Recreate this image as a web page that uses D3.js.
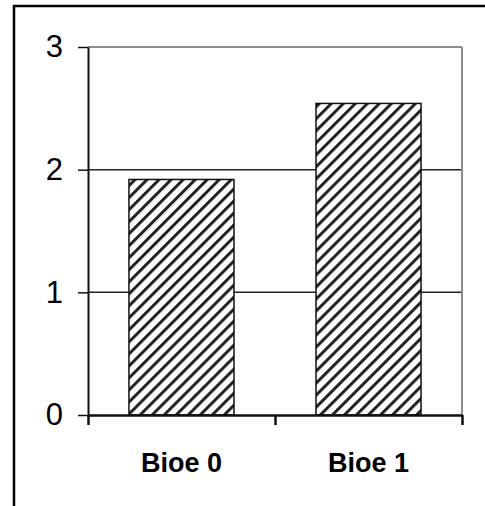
<!DOCTYPE html>
<html>
<head>
<meta charset="utf-8">
<script src="https://cdn.jsdelivr.net/npm/d3@7"></script>
<style>
  html, body { margin: 0; padding: 0; background: #fff; }
  svg { display: block; }
</style>
</head>
<body>
<svg id="chart" width="485" height="506"></svg>
<script>
const categories = ["Bioe 0", "Bioe 1"];
const values = [1.92, 2.54];
const yTicks = [0, 1, 2, 3];

(function () {
const svg = d3.select("#chart");
const mLeft = 88, mRight = 462, mTop = 47, mBottom = 415;

// outer frame (right and bottom edges fall outside the picture)
svg.append("rect")
  .attr("x", 14).attr("y", 6).attr("width", 520).attr("height", 540)
  .attr("fill", "none").attr("stroke", "#000").attr("stroke-width", 2.5);

// hatch pattern (upward diagonal)
const defs = svg.append("defs");
const pat = defs.append("pattern")
  .attr("id", "hatch").attr("patternUnits", "userSpaceOnUse")
  .attr("width", 8.5).attr("height", 8.5)
  .attr("patternTransform", "rotate(45)");
pat.append("rect").attr("width", 8.5).attr("height", 8.5).attr("fill", "#fff");
pat.append("line").attr("x1", 0).attr("y1", 0).attr("x2", 0).attr("y2", 8.5)
  .attr("stroke", "#222").attr("stroke-width", 6);

const x = d3.scaleBand().domain(categories).range([mLeft, mRight])
  .paddingInner(0.4385).paddingOuter(0.219);
const y = d3.scaleLinear().domain([0, 3]).range([mBottom, mTop]);

// gridlines
svg.append("g").selectAll("line").data(yTicks.filter(d => d > 0)).join("line")
  .attr("x1", mLeft).attr("x2", mRight)
  .attr("y1", d => y(d)).attr("y2", d => y(d))
  .attr("stroke", d => d === 3 ? "#8c8c8c" : "#222")
  .attr("stroke-width", d => d === 3 ? 2 : 1.5);

// right border of plot area
svg.append("line").attr("x1", mRight).attr("x2", mRight)
  .attr("y1", y(3)).attr("y2", y(0))
  .attr("stroke", "#8c8c8c").attr("stroke-width", 2);

// bars
svg.append("g").selectAll("rect").data(values).join("rect")
  .attr("x", (d, i) => x(categories[i]))
  .attr("width", x.bandwidth())
  .attr("y", d => y(d))
  .attr("height", d => y(0) - y(d))
  .attr("fill", "url(#hatch)")
  .attr("stroke", "#111").attr("stroke-width", 1.5);

// y axis
const yAxis = svg.append("g").attr("transform", `translate(${mLeft},0)`)
  .call(d3.axisLeft(y).tickValues(yTicks).tickFormat(d3.format("d"))
    .tickSizeInner(10).tickSizeOuter(0).tickPadding(15));
yAxis.select(".domain").attr("stroke", "#111").attr("stroke-width", 2);
yAxis.selectAll(".tick line").attr("stroke", "#111").attr("stroke-width", 1.5);
yAxis.selectAll(".tick text")
  .attr("font-family", "'Liberation Sans', Arial, sans-serif")
  .attr("font-size", 31).attr("fill", "#000");

// x axis: boundary ticks
const xb = d3.scaleLinear().domain([0, categories.length]).range([mLeft, mRight]);
const xAxisTicks = svg.append("g").attr("transform", `translate(0,${mBottom})`)
  .call(d3.axisBottom(xb).ticks(categories.length).tickFormat(() => "")
    .tickSizeInner(10).tickSizeOuter(0));
xAxisTicks.select(".domain").attr("stroke", "#111").attr("stroke-width", 2.5);
xAxisTicks.selectAll(".tick line").attr("stroke", "#111").attr("stroke-width", 2.5);

// x axis: category labels
const xAxis = svg.append("g").attr("transform", `translate(0,${mBottom})`)
  .call(d3.axisBottom(x).tickSize(0));
xAxis.select(".domain").remove();
xAxis.selectAll(".tick text")
  .attr("y", 57).attr("dy", 0)
  .attr("font-family", "'Liberation Sans', Arial, sans-serif")
  .attr("font-weight", "bold")
  .attr("font-size", 27).attr("fill", "#000");
})();
</script>
</body>
</html>
